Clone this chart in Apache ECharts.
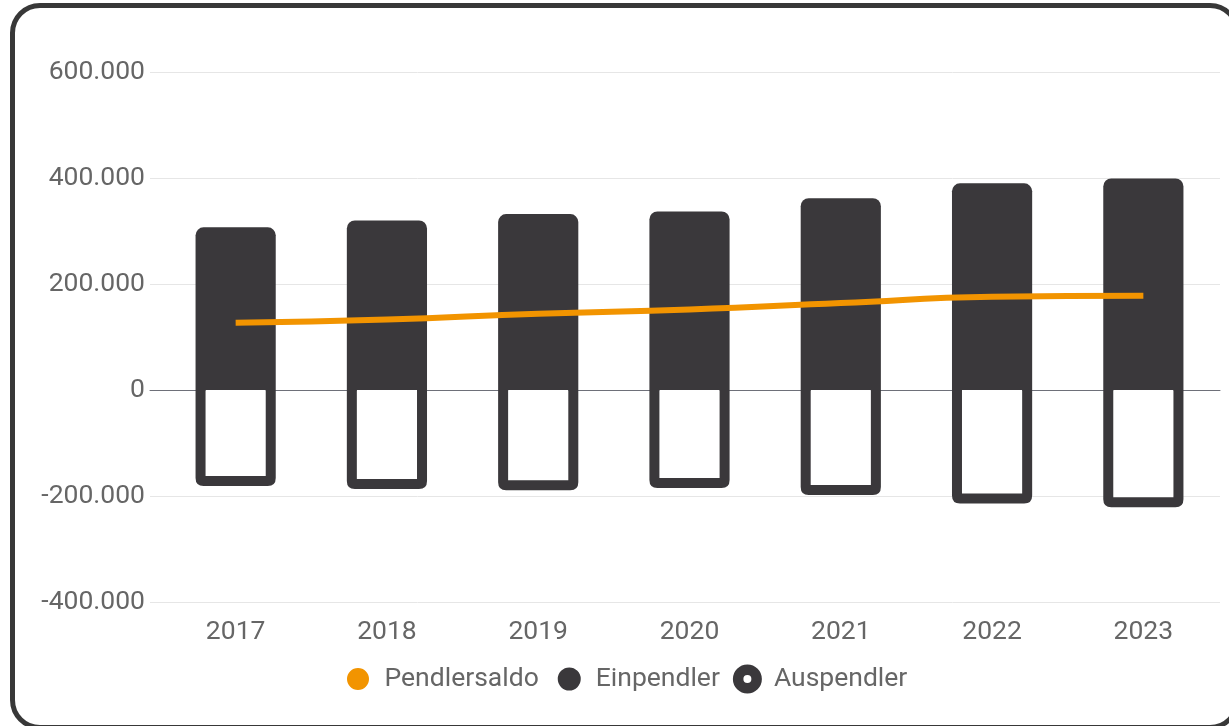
<!DOCTYPE html>
<html>
<head>
<meta charset="utf-8">
<script src="https://cdn.jsdelivr.net/npm/echarts@6/dist/echarts.min.js"></script>
<style>
  html, body { margin: 0; padding: 0; background: #fff; overflow: hidden; }
  .frame {
    position: absolute; left: 10px; top: 3px; width: 1230px; height: 727px;
    box-sizing: border-box; border: 5px solid #383838; border-radius: 30px;
  }
  #chart { position: absolute; left: 0; top: 0; width: 1229px; height: 726px; }
</style>
</head>
<body>
<div class="frame"></div>
<div id="chart"></div>
<script>
const years = ["2017", "2018", "2019", "2020", "2021", "2022", "2023"]
const einpendler = [307000, 320000, 332000, 337000, 362000, 390000, 399000]
const auspendler = [-181000, -187000, -189000, -185000, -198000, -214000, -221000]
const pendlersaldo = [127000, 133000, 144000, 152000, 164000, 176000, 178000]

const dark = "#3a383b"
const orange = "#f29400"
const labelColor = "#666"
const font = "Roboto"
const fontSize = 26.5

// 600000 -> "600.000"
function fmt(v) {
  const s = String(Math.abs(v)).replace(/\B(?=(\d{3})+(?!\d))/g, ".")
  return v < 0 ? "-" + s : s
}

// Ring fuer die Legende (Auspendler)
const ringIcon = "path://M0,-14.5 A14.5,14.5 0 1,1 0,14.5 A14.5,14.5 0 1,1 0,-14.5 Z M0,-4 A4,4 0 1,0 0,4 A4,4 0 1,0 0,-4 Z"

// offener Rahmen unter der Nulllinie
function renderAus(params, api) {
  const idx = api.value(0)
  const base = api.coord([idx, 0])
  const end = api.coord([idx, api.value(1)])
  const w = api.size([1, 0])[0] * 0.53
  const b = 10
  const r = 8
  const x0 = base[0] - w / 2
  const x1 = base[0] + w / 2
  const yt = base[1]
  const yb = end[1]
  const d = `M${x0},${yt} L${x0},${yb - r} Q${x0},${yb} ${x0 + r},${yb} L${x1 - r},${yb} Q${x1},${yb} ${x1},${yb - r} L${x1},${yt} L${x1 - b},${yt} L${x1 - b},${yb - b} L${x0 + b},${yb - b} L${x0 + b},${yt} Z`
  return {
    type: "group",
    children: [
      { type: "rect", shape: { x: x0 + b, y: yt, width: w - 2 * b, height: yb - b - yt }, style: { fill: "#fff" } },
      { type: "path", shape: { pathData: d }, style: { fill: dark } }
    ]
  }
}

const chart = echarts.init(document.getElementById("chart"))

const yCommon = {
  type: "value",
  min: -400000,
  max: 600000,
  interval: 200000
}

chart.setOption({
  animation: false,
  textStyle: { fontFamily: font },
  grid: [
    { left: 150, right: 9, top: 72, bottom: 124 },
    { left: 160, right: 10, top: 72, bottom: 124 }
  ],
  legend: {
    left: 335,
    top: 656,
    itemWidth: 29,
    itemHeight: 29,
    itemGap: 13,
    textStyle: { fontSize: fontSize, color: labelColor, fontFamily: font, padding: [0, 0, 0, 7] },
    data: [
      { name: "Pendlersaldo", icon: "circle", itemStyle: { borderColor: "#fff", borderWidth: 7 } },
      { name: "Einpendler", icon: "circle", itemStyle: { borderColor: "#fff", borderWidth: 6 } },
      { name: "Auspendler", icon: ringIcon }
    ]
  },
  xAxis: [
    {
      type: "category",
      gridIndex: 0,
      data: years,
      axisLine: { onZero: true, lineStyle: { color: "#6e7079", width: 1 } },
      axisTick: { show: false },
      axisLabel: { show: false }
    },
    {
      type: "category",
      gridIndex: 1,
      data: years,
      axisLine: { show: false, onZero: false },
      axisTick: { show: false },
      axisLabel: { fontSize: fontSize, color: labelColor, margin: 17, fontFamily: font }
    }
  ],
  yAxis: [
    {
      ...yCommon,
      gridIndex: 0,
      axisLabel: { fontSize: fontSize, color: labelColor, margin: 5, fontFamily: font, formatter: fmt },
      splitLine: { lineStyle: { color: "#e6e6e6" } }
    },
    {
      ...yCommon,
      gridIndex: 1,
      axisLabel: { show: false },
      splitLine: { show: false }
    }
  ],
  series: [
    {
      name: "Einpendler",
      type: "bar",
      xAxisIndex: 1,
      yAxisIndex: 1,
      data: einpendler,
      barWidth: "53%",
      itemStyle: { color: dark, borderRadius: [8, 8, 0, 0] },
      z: 2
    },
    {
      name: "Auspendler",
      type: "custom",
      xAxisIndex: 1,
      yAxisIndex: 1,
      data: auspendler.map((v, i) => [i, v]),
      encode: { x: 0, y: 1 },
      renderItem: renderAus,
      itemStyle: { color: dark },
      z: 2
    },
    {
      name: "Pendlersaldo",
      type: "line",
      xAxisIndex: 1,
      yAxisIndex: 1,
      data: pendlersaldo,
      smooth: true,
      showSymbol: false,
      symbol: "none",
      itemStyle: { color: orange },
      lineStyle: { color: orange, width: 6, cap: "butt" },
      z: 4
    }
  ]
})
</script>
</body>
</html>
